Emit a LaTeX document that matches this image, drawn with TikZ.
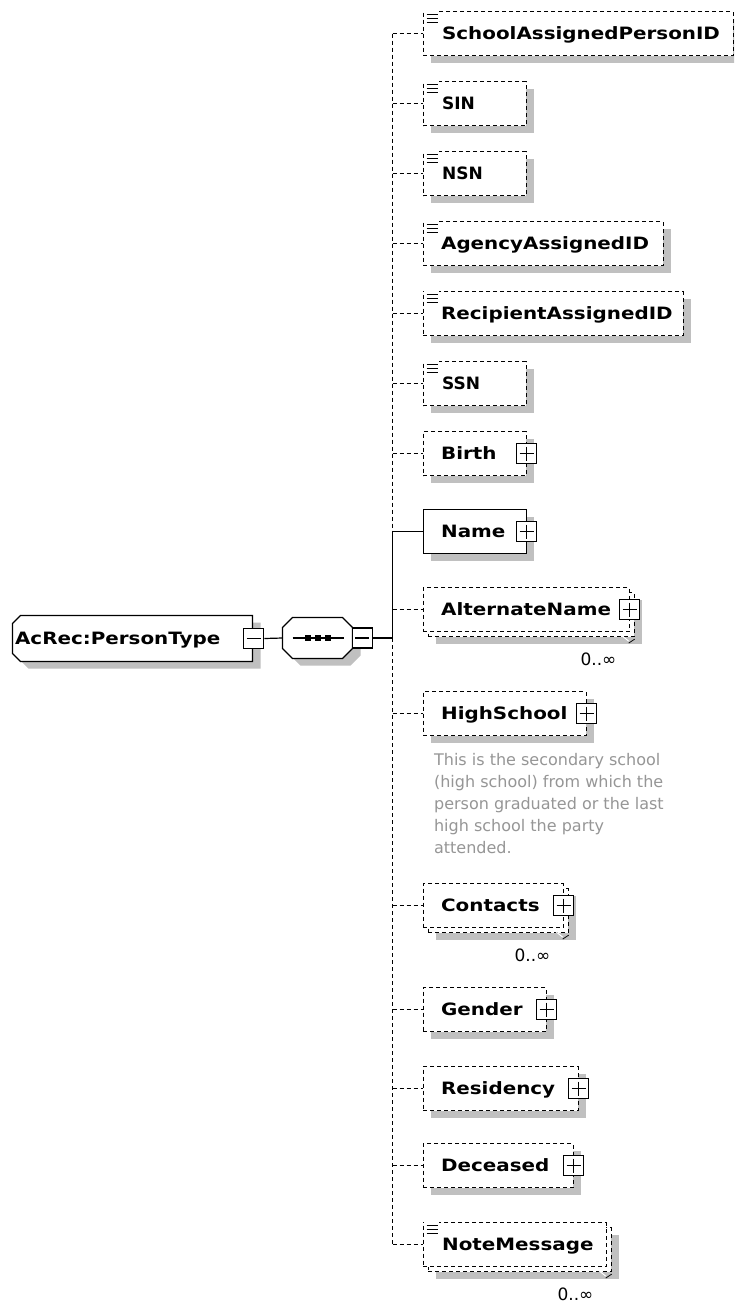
\documentclass[tikz,border=0pt]{standalone}
\usepackage{fontspec}
\usetikzlibrary{shadows}
\newfontfamily\lblfont[FakeStretch=1.17]{DejaVu Sans Bold}
\newfontfamily\lblnarrowfont{DejaVu Sans Bold}
\newfontfamily\descfontfam{DejaVu Sans}
\definecolor{shadowgray}{RGB}{192,192,192}
\definecolor{descgray}{RGB}{150,150,150}
\begin{document}
\begin{tikzpicture}[x=1pt,y=-1pt,
  line width=1.2pt,
  dsh/.style={dash pattern=on 4pt off 3pt},
  shd/.style={general shadow={fill=shadowgray, shadow xshift=8pt, shadow yshift=-7pt}},
  elembox/.style={draw, fill=white, minimum height=44, inner sep=0, anchor=west},
  optbox/.style={elembox, dsh},
  lbl/.style={font=\lblfont\fontsize{17}{20}\selectfont, anchor=base west, inner sep=0},
  lbln/.style={font=\lblnarrowfont\fontsize{17}{20}\selectfont, anchor=base west, inner sep=0},
  desc/.style={font=\descfontfam\fontsize{16}{22}\selectfont, text=descgray, anchor=base west, inner sep=0},
  card/.style={font=\descfontfam\fontsize{17}{20}\selectfont, anchor=base, inner sep=0},
  pmbox/.style={draw, solid, fill=white, minimum size=20, inner sep=0},
  plusbox/.style={pmbox, path picture={
     \draw[line width=1.2pt] ([xshift=3pt]path picture bounding box.west) -- ([xshift=-3pt]path picture bounding box.east);
     \draw[line width=1.2pt] ([yshift=-3pt]path picture bounding box.north) -- ([yshift=3pt]path picture bounding box.south);}},
  minusbox/.style={pmbox, path picture={
     \draw[line width=1.2pt] ([xshift=3pt]path picture bounding box.west) -- ([xshift=-3pt]path picture bounding box.east);}},
  sicon/.pic={
     \fill[white] (1.5,-1) rectangle (16,13);
     \draw[line width=1pt] (4,3) -- (15,3) (4,7) -- (15,7) (4,11) -- (15,11);},
  notch/.pic={
     \draw[white, line width=1pt] (-16,-4) -- (-6,4);
     \draw[black, line width=0.8pt] (-6,6) -- (0,2);}
]
\useasboundingbox (0,0) rectangle (734,1304);
\fill[white] (0,0) rectangle (734,1304);
\clip (0,0) rectangle (734,1304);
\begin{scope}[shift={(0.5,0.5)}]

% ---- root type ----
\fill[shadowgray] (28,622) -- (260,622) -- (260,668) -- (28,668) -- (20,660) -- (20,630) -- cycle;
\draw[fill=white] (20,615) -- (252,615) -- (252,661) -- (20,661) -- (12,653) -- (12,623) -- cycle;
\node[minimum width=240, minimum height=46, inner sep=0, anchor=west] (acrec) at (12,638) {};
\node[lbl] (acrecT) at (14,644) {AcRec:PersonType};
\node[minusbox] (acrecM) at (acrec.east) {};

% ---- sequence compositor ----
\fill[shadowgray] (300,624) -- (350,624) -- (360,634) -- (360,655) -- (350,665) -- (300,665) -- (290,655) -- (290,634) -- cycle;
\draw[fill=white] (292,617) -- (342,617) -- (352,627) -- (352,648) -- (342,658) -- (292,658) -- (282,648) -- (282,627) -- cycle;
\node[minimum width=70, minimum height=41, inner sep=0, anchor=west] (seq) at (282,637.5) {};
\draw ([xshift=10pt]seq.west) -- ([xshift=-10pt]seq.east);
\foreach \dx in {-10,0,10}
  \fill ([xshift=\dx pt]seq.center) ++(-3,-3) rectangle ++(6,6);
\node[minusbox, anchor=west] (seqM) at ([xshift=-2pt]seq.east) {};

\draw (acrecM.east) -- (seq.west);

% ---- junction coordinates ----
\coordinate (jschool) at (392,33);
\coordinate (jsin) at (392,103);
\coordinate (jnsn) at (392,173);
\coordinate (jagency) at (392,243);
\coordinate (jrecip) at (392,313);
\coordinate (jssn) at (392,383);
\coordinate (jbirth) at (392,453);
\coordinate (jname) at (392,531);
\coordinate (jseq) at (392,637.5);
\coordinate (jalt) at (392,609);
\coordinate (jhigh) at (392,713);
\coordinate (jcontacts) at (392,905);
\coordinate (jgender) at (392,1009);
\coordinate (jres) at (392,1088);
\coordinate (jdec) at (392,1165);
\coordinate (jnote) at (392,1244);

\draw (seqM.east) -- (jseq);
\draw[dsh] (jschool) -- (jname);
\draw (jname) -- (jseq);
\draw[dsh] (jseq) -- (jnote);

% ---- children ----
\node[optbox, shd, minimum width=310] (school) at (422,33) {};
\pic at (422,11) {sicon};
\node[lbl] (schoolT) at (441,39) {SchoolAssignedPersonID};

\node[optbox, shd, minimum width=103] (sin) at (422,103) {};
\pic at (422,81) {sicon};
\node[lbln] (sinT) at (441,109) {SIN};

\node[optbox, shd, minimum width=103] (nsn) at (422,173) {};
\pic at (422,151) {sicon};
\node[lbln] (nsnT) at (441,179) {NSN};

\node[optbox, shd, minimum width=240] (agency) at (422,243) {};
\pic at (422,221) {sicon};
\node[lbl] (agencyT) at (440,249) {AgencyAssignedID};

\node[optbox, shd, minimum width=260] (recip) at (422,313) {};
\pic at (422,291) {sicon};
\node[lbl] (recipT) at (440,319) {RecipientAssignedID};

\node[optbox, shd, minimum width=103] (ssn) at (422,383) {};
\pic at (422,361) {sicon};
\node[lbln] (ssnT) at (441,389) {SSN};

\node[optbox, shd, minimum width=103] (birth) at (422,453) {};
\node[lbl] (birthT) at (440,459) {Birth};
\node[plusbox] (birthP) at (birth.east) {};

\node[elembox, shd, minimum width=103] (name) at (422,531) {};
\node[lbl] (nameT) at (440,537) {Name};
\node[plusbox] (nameP) at (name.east) {};

\node[optbox, shd, minimum width=206] (altB) at (427,614) {};
\node[optbox, minimum width=206] (alt) at (422,609) {};
\node[lbl] (altT) at (440,615) {AlternateName};
\node[plusbox] (altP) at (alt.east) {};
\pic at (altB.south east) {notch};
\node[card] (altC) at (598,664.5) {0..∞};

\node[optbox, shd, minimum width=163] (high) at (422,713) {};
\node[lbl] (highT) at (440,719) {HighSchool};
\node[plusbox] (highP) at (high.east) {};
\node[desc] (desc1) at (433,765) {This is the secondary school};
\node[desc] (desc2) at (433,787) {(high school) from which the};
\node[desc] (desc3) at (433,809) {person graduated or the last};
\node[desc] (desc4) at (433,831) {high school the party};
\node[desc] (desc5) at (433,853) {attended.};

\node[optbox, shd, minimum width=140] (contactsB) at (427,910) {};
\node[optbox, minimum width=140] (contacts) at (422,905) {};
\node[lbl] (contactsT) at (440,911) {Contacts};
\node[plusbox] (contactsP) at (contacts.east) {};
\pic at (contactsB.south east) {notch};
\node[card] (contactsC) at (532,960.5) {0..∞};

\node[optbox, shd, minimum width=123] (gender) at (422,1009) {};
\node[lbl] (genderT) at (440,1015) {Gender};
\node[plusbox] (genderP) at (gender.east) {};

\node[optbox, shd, minimum width=155] (res) at (422,1088) {};
\node[lbl] (resT) at (440,1094) {Residency};
\node[plusbox] (resP) at (res.east) {};

\node[optbox, shd, minimum width=150] (dec) at (422,1165) {};
\node[lbl] (decT) at (440,1171) {Deceased};
\node[plusbox] (decP) at (dec.east) {};

\node[optbox, shd, minimum width=183] (noteB) at (427,1249) {};
\node[optbox, minimum width=183] (note) at (422,1244) {};
\pic at (422,1222) {sicon};
\node[lbl] (noteT) at (441,1250) {NoteMessage};
\pic at (noteB.south east) {notch};
\node[card] (noteC) at (575,1299.5) {0..∞};

% ---- connectors to children ----
\draw[dsh] (jschool) -- (school.west);
\draw[dsh] (jsin) -- (sin.west);
\draw[dsh] (jnsn) -- (nsn.west);
\draw[dsh] (jagency) -- (agency.west);
\draw[dsh] (jrecip) -- (recip.west);
\draw[dsh] (jssn) -- (ssn.west);
\draw[dsh] (jbirth) -- (birth.west);
\draw (jname) -- (name.west);
\draw[dsh] (jalt) -- (alt.west);
\draw[dsh] (jhigh) -- (high.west);
\draw[dsh] (jcontacts) -- (contacts.west);
\draw[dsh] (jgender) -- (gender.west);
\draw[dsh] (jres) -- (res.west);
\draw[dsh] (jdec) -- (dec.west);
\draw[dsh] (jnote) -- (note.west);
\end{scope}
\end{tikzpicture}
\end{document}
